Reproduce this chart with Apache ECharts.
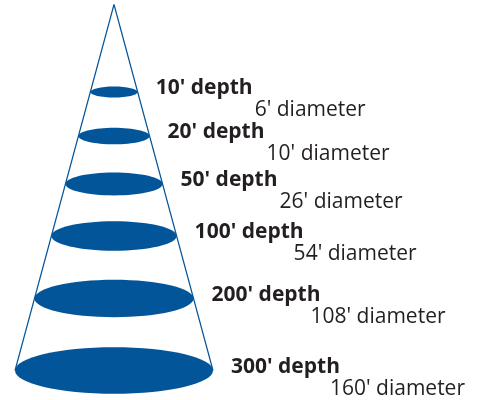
<!DOCTYPE html>
<html>
<head>
<meta charset="utf-8">
<script src="https://cdn.jsdelivr.net/npm/echarts@6/dist/echarts.min.js"></script>
<style>
  html, body { margin: 0; padding: 0; background: #fff; }
  #cone { width: 486px; height: 400px; }
</style>
</head>
<body>
<div id="cone"></div>
<script>
// depth / diameter pairs from the figure
var depths = [10, 20, 50, 100, 200, 300];
var diameters = [6, 10, 26, 54, 108, 160];
// where each ring sits on the (not to scale) cone, in drawing units from the apex
var levels = [87.5, 131.5, 179.5, 231.5, 294, 366];
var coneDepth = 366;
var coneHalf = 99;

var blue = '#03559a';
var ink = '#231f20';

var chart = echarts.init(document.getElementById('cone'));

var ringData = depths.map(function (d, i) {
    return [levels[i] * coneHalf / coneDepth, levels[i], d, diameters[i]];
});

chart.setOption({
    animation: false,
    grid: { left: 0, right: 0, top: 0, bottom: 0 },
    xAxis: { type: 'value', min: -114, max: 372, show: false },
    yAxis: { type: 'value', inverse: true, min: -4.5, max: 395.5, show: false },
    series: [
        {
            type: 'line',
            data: [[-coneHalf, coneDepth], [0, 0], [coneHalf, coneDepth]],
            symbol: 'none',
            lineStyle: { color: blue, width: 1.2 },
            z: 1
        },
        {
            type: 'custom',
            data: ringData,
            z: 2,
            renderItem: function (params, api) {
                var c = api.coord([0, api.value(1)]);
                var edge = api.coord([api.value(0), api.value(1)]);
                var rx = edge[0] - c[0];
                var ry = rx * 0.235;
                var tx = edge[0] + 18;
                var ty = c[1] + 7;
                return {
                    type: 'group',
                    children: [
                        {
                            type: 'ellipse',
                            shape: { cx: c[0], cy: c[1], rx: rx, ry: ry },
                            style: { fill: blue }
                        },
                        {
                            type: 'text',
                            x: tx, y: ty,
                            style: {
                                text: api.value(2) + "' depth",
                                font: 'bold 21px "Open Sans"',
                                fill: ink,
                                verticalAlign: 'bottom',
                                align: 'left'
                            }
                        },
                        {
                            type: 'text',
                            x: tx + 99, y: ty + 22,
                            style: {
                                text: api.value(3) + "' diameter",
                                font: '21px "Open Sans"',
                                fill: ink,
                                verticalAlign: 'bottom',
                                align: 'left'
                            }
                        }
                    ]
                };
            }
        }
    ]
});
</script>
</body>
</html>
